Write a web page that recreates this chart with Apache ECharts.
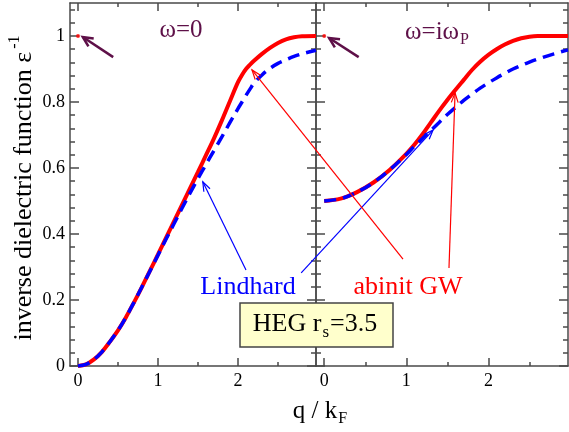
<!DOCTYPE html>
<html><head><meta charset="utf-8">
<script src="https://cdn.jsdelivr.net/npm/echarts@6/dist/echarts.min.js"></script>
<style>html,body{margin:0;padding:0;background:#fff}#c{width:569px;height:432px}</style>
</head><body><div id="c"></div>
<script>
// ---- data ----
const qStatic = [0,0.1,0.2,0.3,0.4,0.5,0.6,0.7,0.8,0.9,1.0,1.1,1.2,1.3,1.4,1.5,1.6,1.7,1.8,1.9,2.0,2.05,2.1,2.15,2.2,2.3,2.4,2.5,2.6,2.7,2.8,2.975];
const gwStatic = [0,0.005,0.02,0.043,0.074,0.108,0.148,0.193,0.24,0.289,0.338,0.388,0.438,0.488,0.538,0.588,0.639,0.69,0.745,0.803,0.86,0.882,0.9,0.913,0.925,0.946,0.964,0.979,0.99,0.996,0.999,1.0];
const lindStatic = [0,0.005,0.02,0.043,0.074,0.108,0.148,0.193,0.24,0.288,0.336,0.384,0.431,0.478,0.524,0.568,0.611,0.653,0.695,0.738,0.78,0.8,0.82,0.839,0.857,0.882,0.902,0.917,0.928,0.938,0.946,0.957];

const qImag = [0,0.2,0.4,0.6,0.8,1.0,1.1,1.2,1.3,1.4,1.5,1.6,1.7,1.8,1.9,2.0,2.1,2.2,2.3,2.4,2.5,2.6,2.8,2.97];
const gwImag = [0.5,0.507,0.527,0.556,0.595,0.643,0.671,0.703,0.738,0.773,0.806,0.837,0.867,0.897,0.922,0.943,0.96,0.974,0.985,0.993,0.998,1.0,1.0,1.0];
const lindImag = [0.5,0.507,0.527,0.556,0.595,0.641,0.666,0.69,0.714,0.738,0.762,0.784,0.805,0.824,0.842,0.858,0.873,0.887,0.9,0.911,0.921,0.93,0.946,0.958];

const qZeroPoint = [0, 1];

const xMajor = [0, 1, 2];
const xMinor = [0.5, 1.5, 2.5];
const yMajor = [0, 0.2, 0.4, 0.6, 0.8, 1];
const yMinor = [];
for (let i = 1; i <= 27; i++) { if (i % 5 !== 0) yMinor.push(+(i * 0.04).toFixed(2)); }

// ---- style ----
const FRAME = '#4a4a4a';
const SERIF = "'Liberation Serif', 'DejaVu Serif', serif";
const PURPLE = '#5e1048';
const RED = '#ff0000';
const BLUE = '#0000ff';

function zip(xs, ys) { return xs.map((x, i) => [x, ys[i]]); }

function xAxes(g, min, max) {
  const common = {type: 'value', gridIndex: g, min: min, max: max, splitLine: {show: false}};
  const line = {show: true, onZero: false, lineStyle: {color: FRAME, width: 1.5}};
  const noLine = {show: false, onZero: false};
  const tick = (vals, len) => ({show: true, inside: true, length: len, customValues: vals, lineStyle: {color: FRAME, width: 1.5}});
  return [
    Object.assign({}, common, {position: 'bottom', axisLine: line, axisTick: tick(xMajor, 8),
      axisLabel: {show: true, customValues: xMajor, margin: 6, fontFamily: SERIF, fontSize: 18, color: '#000'}}),
    Object.assign({}, common, {position: 'bottom', axisLine: noLine, axisTick: tick(xMinor, 4), axisLabel: {show: false}}),
    Object.assign({}, common, {position: 'top', axisLine: line, axisTick: tick(xMajor, 8), axisLabel: {show: false}}),
    Object.assign({}, common, {position: 'top', axisLine: noLine, axisTick: tick(xMinor, 4), axisLabel: {show: false}})
  ];
}
function yAxes(g, labels) {
  const common = {type: 'value', gridIndex: g, min: 0, max: 1.1, splitLine: {show: false}};
  const line = {show: true, onZero: false, lineStyle: {color: FRAME, width: 1.5}};
  const noLine = {show: false, onZero: false};
  const tick = (vals, len) => ({show: true, inside: true, length: len, customValues: vals, lineStyle: {color: FRAME, width: 1.5}});
  return [
    Object.assign({}, common, {position: 'left', axisLine: line, axisTick: tick(yMajor, 9),
      axisLabel: labels ? {show: true, customValues: yMajor, margin: 5, fontFamily: SERIF, fontSize: 18, color: '#000'} : {show: false}}),
    Object.assign({}, common, {position: 'left', axisLine: noLine, axisTick: tick(yMinor, 5), axisLabel: {show: false}}),
    Object.assign({}, common, {position: 'right', axisLine: line, axisTick: tick(yMajor, 9), axisLabel: {show: false}}),
    Object.assign({}, common, {position: 'right', axisLine: noLine, axisTick: tick(yMinor, 5), axisLabel: {show: false}})
  ];
}

const chart = echarts.init(document.getElementById('c'), null, {renderer: 'canvas'});

const gwStyle = {type: 'line', symbol: 'none', smooth: 0.35, lineStyle: {color: RED, width: 4}, z: 3};
const lindStyle = {type: 'line', symbol: 'none', smooth: 0.35, lineStyle: {color: BLUE, width: 3.5, type: [12, 7]}, z: 4};

const option = {
  animation: false,
  backgroundColor: '#fff',
  grid: [
    {left: 70, top: 3, width: 246, height: 363},
    {left: 316, top: 3, width: 252, height: 363}
  ],
  xAxis: xAxes(0, -0.1, 2.975).concat(xAxes(1, -0.1, 2.97)),
  yAxis: yAxes(0, true).concat(yAxes(1, false)),
  series: [
    Object.assign({}, gwStyle, {name: 'abinit GW (ω=0)', xAxisIndex: 0, yAxisIndex: 0, data: zip(qStatic, gwStatic)}),
    Object.assign({}, lindStyle, {name: 'Lindhard (ω=0)', xAxisIndex: 0, yAxisIndex: 0, data: zip(qStatic, lindStatic)}),
    Object.assign({}, gwStyle, {name: 'abinit GW (ω=iωP)', xAxisIndex: 4, yAxisIndex: 4, data: zip(qImag, gwImag)}),
    Object.assign({}, lindStyle, {name: 'Lindhard (ω=iωP)', xAxisIndex: 4, yAxisIndex: 4, data: zip(qImag, lindImag)}),
    {type: 'scatter', xAxisIndex: 0, yAxisIndex: 0, symbolSize: 4, itemStyle: {color: RED}, data: [qZeroPoint], z: 5},
    {type: 'scatter', xAxisIndex: 4, yAxisIndex: 4, symbolSize: 4, itemStyle: {color: RED}, data: [qZeroPoint], z: 5}
  ]
};
chart.setOption(option);

// ---- annotations (positioned through the axes' scales) ----
function px(g, p) { return chart.convertToPixel({gridIndex: g}, p); }
function arrow(a, b, color, width, head, ang) {
  const dx = b[0] - a[0], dy = b[1] - a[1], L = Math.hypot(dx, dy), ux = dx / L, uy = dy / L;
  const c = Math.cos(ang), s = Math.sin(ang);
  const h1 = [b[0] - head * (ux * c - uy * s), b[1] - head * (uy * c + ux * s)];
  const h2 = [b[0] - head * (ux * c + uy * s), b[1] - head * (uy * c - ux * s)];
  return [
    {type: 'line', z: 50, shape: {x1: a[0], y1: a[1], x2: b[0], y2: b[1]}, style: {stroke: color, lineWidth: width}},
    {type: 'polyline', z: 50, shape: {points: [h1, b, h2]}, style: {stroke: color, lineWidth: width, fill: null}}
  ];
}

let g = [];
g = g.concat(arrow(px(0, [0.44, 0.936]), px(0, [0.06, 0.997]), PURPLE, 2.5, 11, 0.45));
g = g.concat(arrow(px(1, [0.42, 0.936]), px(1, [0.06, 0.994]), PURPLE, 2.5, 11, 0.45));
g = g.concat(arrow(px(0, [2.1, 0.291]), px(0, [1.56, 0.558]), BLUE, 1.2, 10, 0.35));
g = g.concat(arrow(px(0, [2.79, 0.282]), px(1, [1.326, 0.715]), BLUE, 1.2, 10, 0.35));
g = g.concat(arrow(px(1, [0.96, 0.324]), px(0, [2.175, 0.897]), RED, 1.2, 10, 0.35));
g = g.concat(arrow(px(1, [1.52, 0.297]), px(1, [1.594, 0.827]), RED, 1.2, 10, 0.35));

g.push({type: 'text', z: 60, x: 181, y: 30, style: {text: 'ω=0', font: '25px ' + SERIF, fill: PURPLE, align: 'center', verticalAlign: 'middle'}});
g.push({type: 'text', z: 60, x: 437, y: 32, style: {
  text: '{a|ω=iω}{b|P}', align: 'center', verticalAlign: 'middle',
  rich: {a: {fontFamily: SERIF, fontSize: 25, fill: PURPLE, color: PURPLE}, b: {fontFamily: SERIF, fontSize: 16, color: PURPLE, fill: PURPLE, padding: [16, 0, 0, 1]}}
}});
g.push({type: 'text', z: 60, x: 248, y: 287, style: {text: 'Lindhard', font: '26px ' + SERIF, fill: BLUE, align: 'center', verticalAlign: 'middle'}});
g.push({type: 'text', z: 60, x: 408, y: 287, style: {text: 'abinit GW', font: '26px ' + SERIF, fill: RED, align: 'center', verticalAlign: 'middle'}});

g.push({type: 'rect', z: 70, shape: {x: 240, y: 303, width: 153, height: 44}, style: {fill: '#ffffcc', stroke: '#444', lineWidth: 1.5}});
g.push({type: 'text', z: 71, x: 315, y: 324, style: {
  text: '{a|HEG r}{b|s}{a|=3.5}', align: 'center', verticalAlign: 'middle',
  rich: {a: {fontFamily: SERIF, fontSize: 26, color: '#000', fill: '#000'}, b: {fontFamily: SERIF, fontSize: 17, color: '#000', fill: '#000', padding: [18, 1, 0, 1]}}
}});

g.push({type: 'text', z: 60, x: 24, y: 188, rotation: Math.PI / 2, style: {
  text: '{a|inverse dielectric function ε}{b|-1}', align: 'center', verticalAlign: 'middle',
  rich: {a: {fontFamily: SERIF, fontSize: 26, color: '#000', fill: '#000'}, b: {fontFamily: SERIF, fontSize: 16, color: '#000', fill: '#000', padding: [0, 0, 18, 3]}}
}});
g.push({type: 'text', z: 60, x: 320, y: 411, style: {
  text: '{a|q / k}{b|F}', align: 'center', verticalAlign: 'middle',
  rich: {a: {fontFamily: SERIF, fontSize: 25, color: '#000', fill: '#000'}, b: {fontFamily: SERIF, fontSize: 16, color: '#000', fill: '#000', padding: [16, 0, 0, 1]}}
}});

chart.setOption({graphic: {elements: g}});
</script></body></html>
